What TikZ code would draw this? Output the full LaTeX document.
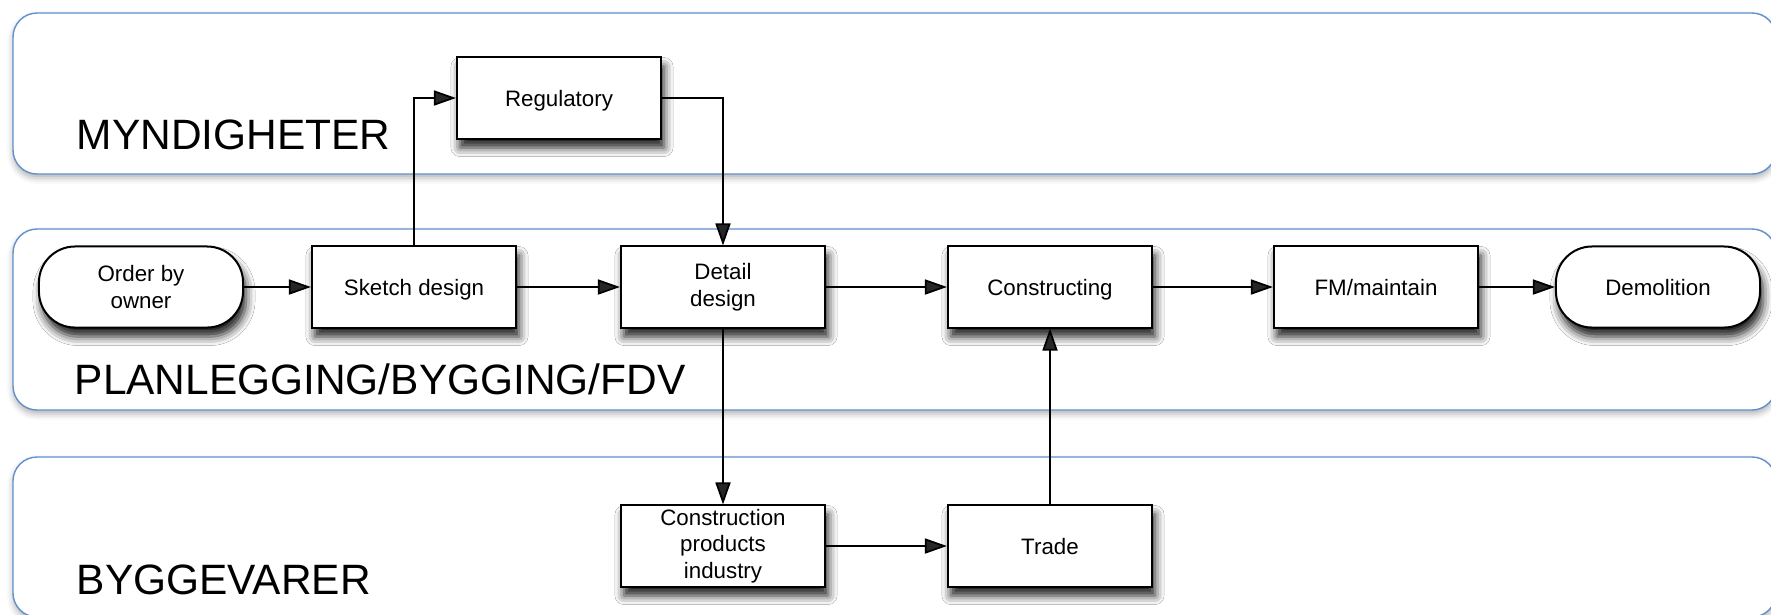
\documentclass[tikz,border=0pt]{standalone}
\usepackage{fontspec}
\setmainfont{Liberation Sans}
\usepackage{tikz}
\usetikzlibrary{arrows.meta, shadows.blur}
\definecolor{lanecol}{RGB}{98,144,204}

\begin{document}
\begin{tikzpicture}[x=0.01cm,y=-0.01cm,>={Triangle[length=0.22cm,width=0.15cm]}]
\tikzset{lane/.style={draw=lanecol, line width=0.4pt, rounded corners=0.24cm, fill=white,
    blur shadow={shadow xshift=0cm, shadow yshift=-0.04cm, shadow blur radius=0.06cm, shadow opacity=30}},
  lanelabel/.style={anchor=base west, inner sep=0, font=\fontsize{12.07}{14}\selectfont},
  task/.style={draw, line width=0.57pt, fill=white, minimum width=2.04cm, minimum height=0.81cm,
    inner sep=0, align=center, font=\fontsize{6.35}{7.55}\selectfont,
    blur shadow={shadow xshift=0.03cm, shadow yshift=-0.09cm, shadow blur radius=0.09cm, shadow opacity=90}},
  terminal/.style={task, rounded corners=0.36cm},
  single/.style={text height=4.64pt, text depth=0pt},
  flow/.style={->, line width=0.5pt}}
\useasboundingbox (0,0) rectangle (1771,614);
% The lanes
\draw[lane] (13,13) rectangle (1776,174);
\draw[lane] (13,229) rectangle (1776,410);
\draw[lane] (13,457) rectangle (1776,617);
\node[lanelabel] (myn) at (76,149) {MYNDIGHETER};
\node[lanelabel] (plan) at (74,394) {PLANLEGGING/BYGGING/FDV};
\node[lanelabel] (bygg) at (76,594) {BYGGEVARER};
% Boxes
\node[terminal] (order) at (141,287) {Order by\\owner};
\node[task, single] (sketch) at (414,287) {Sketch design};
\node[task] (detail) at (723,287) {Detail\\design};
\node[task, single] (constr) at (1050,287) {Constructing};
\node[task, single] (fm) at (1376,287) {FM/maintain};
\node[terminal, single] (demol) at (1658,287) {Demolition};
\node[task, single] (reg) at (559,98) {Regulatory};
\node[task] (cpi) at (723,546) {Construction\\products\\industry};
\node[task, single] (trade) at (1050,546) {Trade};
% Arrows
\draw[flow] (order) -- (sketch);
\draw[flow] (sketch) -- (detail);
\draw[flow] (detail) -- (constr);
\draw[flow] (constr) -- (fm);
\draw[flow] (fm) -- (demol);
\draw[flow] (sketch.north) |- (reg.west);
\draw[flow] (reg.east) -| (detail.north);
\draw[flow] (detail.south) -- (cpi.north);
\draw[flow] (cpi) -- (trade);
\draw[flow] (trade.north) -- (constr.south);
\end{tikzpicture}
\end{document}
